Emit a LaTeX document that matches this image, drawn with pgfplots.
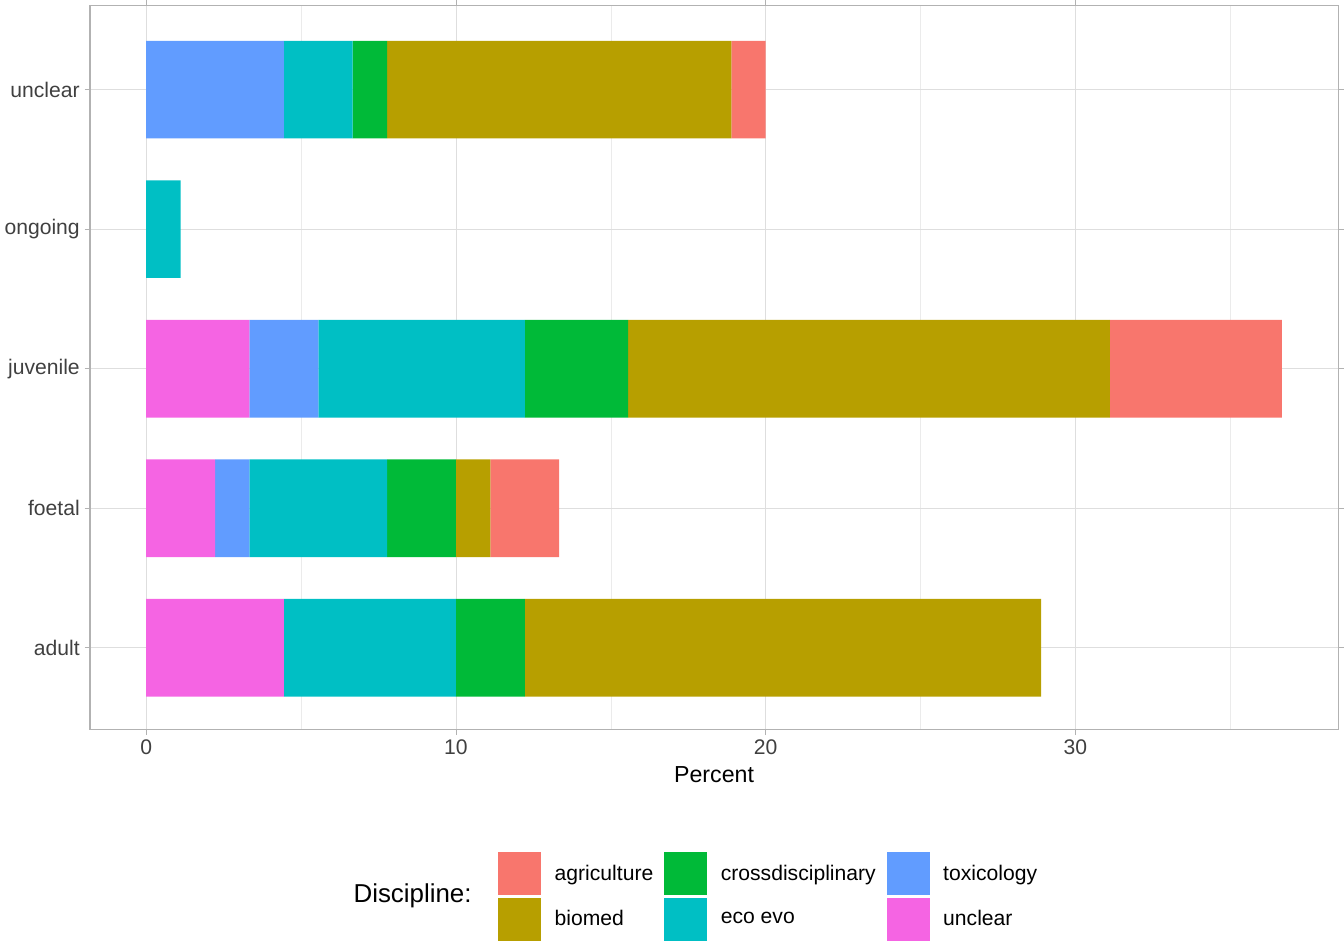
\documentclass[border=0pt]{standalone}
\usepackage{pgfplots}
\pgfplotsset{compat=1.18}
\usepackage{fontspec}
\setmainfont{Liberation Sans}
\definecolor{cagri}{HTML}{F8766D}
\definecolor{cbio}{HTML}{B79F00}
\definecolor{ccross}{HTML}{00BA38}
\definecolor{ceco}{HTML}{00BFC4}
\definecolor{ctox}{HTML}{619CFF}
\definecolor{cunc}{HTML}{F564E3}
\definecolor{gridc}{HTML}{DEDEDE}
\begin{document}
\begin{tikzpicture}
\begin{axis}[
  scale only axis, width=915.75pt, height=531pt, clip=false,
  xbar stacked, bar width=0.7,
  xmin=-1.815, xmax=38.48, ymin=-0.586, ymax=4.6,
  ytick={0,1,2,3,4}, yticklabels={adult,foetal,juvenile,ongoing,unclear},
  xtick={0,10,20,30}, minor xtick={5,15,25,35},
  xmajorgrids, ymajorgrids, xminorgrids,
  major grid style={gridc, line width=0.6pt},
  minor grid style={gridc!60, line width=0.4pt},
  axis line style={gray!60, line width=0.8pt},
  tick style={gray!60, line width=0.6pt},
  tick align=outside, major tick length=4pt, minor tick length=0pt,
  tick label style={font=\fontsize{15.5}{18}\selectfont, text=black!75},
  /pgf/number format/assume math mode=true,
  xlabel={Percent}, xlabel style={font=\fontsize{17}{20}\selectfont, yshift=-2pt},
  legend style={at={(0.3235,-0.165)}, anchor=north west, draw=none,
    font=\fontsize{15.5}{18}\selectfont,
    /tikz/every odd column/.append style={column sep=8pt},
    /tikz/every even column/.append style={column sep=6pt},
    row sep=2pt},
  legend columns=3,
  legend cell align=left,
  legend image code/.code={\fill[#1, draw=none] (0pt,-15.75pt) rectangle (31.5pt,15.75pt);},
]
\def\u{1.11111}
\addplot+[forget plot, fill=cunc, draw=none] coordinates {(4*\u,0) (2*\u,1) (3*\u,2) (0,3) (0,4)};
\addplot+[forget plot, fill=ctox, draw=none] coordinates {(0,0) (1*\u,1) (2*\u,2) (0,3) (4*\u,4)};
\addplot+[forget plot, fill=ceco, draw=none] coordinates {(5*\u,0) (4*\u,1) (6*\u,2) (1*\u,3) (2*\u,4)};
\addplot+[forget plot, fill=ccross, draw=none] coordinates {(2*\u,0) (2*\u,1) (3*\u,2) (0,3) (1*\u,4)};
\addplot+[forget plot, fill=cbio, draw=none] coordinates {(15*\u,0) (1*\u,1) (14*\u,2) (0,3) (10*\u,4)};
\addplot+[forget plot, fill=cagri, draw=none] coordinates {(0,0) (2*\u,1) (5*\u,2) (0,3) (1*\u,4)};
\addlegendimage{fill=cagri}\addlegendentry{agriculture}
\addlegendimage{fill=ccross}\addlegendentry{crossdisciplinary}
\addlegendimage{fill=ctox}\addlegendentry{toxicology}
\addlegendimage{fill=cbio}\addlegendentry{biomed}
\addlegendimage{fill=ceco}\addlegendentry{eco evo}
\addlegendimage{fill=cunc}\addlegendentry{unclear}
\node[anchor=east, font=\fontsize{19}{22}\selectfont] at (rel axis cs:0.3096,-0.230) {Discipline:};
\end{axis}
\end{tikzpicture}
\end{document}
